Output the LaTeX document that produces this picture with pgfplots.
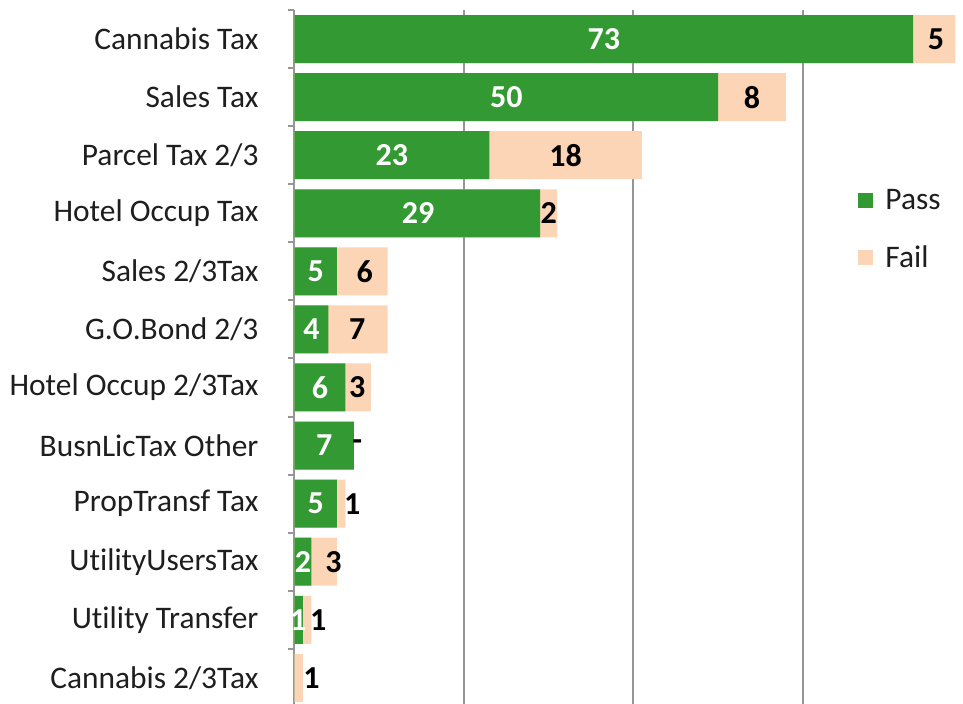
\documentclass[border=0pt]{standalone}
\usepackage{fontspec}
\setmainfont[RawFeature={-liga}]{Carlito}
\usepackage{pgfplots}
\pgfplotsset{compat=1.18}
\usepackage{pgfplotstable}
\definecolor{passg}{RGB}{51,153,51}
\definecolor{failp}{RGB}{251,213,181}
\definecolor{gridg}{RGB}{150,150,150}
\definecolor{txt}{RGB}{30,30,30}

\pgfplotstableread{
y pass fail
0 73 5
1 50 8
2 23 18
3 29 2
4 5 6
5 4 7
6 6 3
7 7 0
8 5 1
9 2 3
10 1 1
11 0 1
}\bars

\pgfplotstableread{
y x label
0 36.5 73
1 25 50
2 11.5 23
3 14.6 29
4 2.5 5
5 2 4
6 3 6
7 3.5 7
8 2.5 5
9 1 2
10 0.45 1
}\passlab

\pgfplotstableread{
y x label
0 75.7 5
1 54 8
2 32 18
3 30 2
4 8.3 6
5 7.4 7
6 7.4 3
7 7.4 {-}
8 6.8 1
9 4.6 3
10 2.8 1
11 2.0 1
}\faillab

\begin{document}
\begin{tikzpicture}
\begin{axis}[
  scale only axis, width=334.25pt, height=347pt,
  xmin=0, xmax=78.9, ymin=-0.5, ymax=11.45, y dir=reverse,
  axis lines*=left,
  x axis line style={draw=none},
  y axis line style={gridg, line width=1pt},
  xtick={20,40,60}, xticklabels={},
  xmajorgrids, grid style={gridg, line width=1pt},
  major x tick style={draw=none},
  ytick={0,...,11},
  yticklabels={Cannabis Tax, Sales Tax, Parcel Tax 2/3, Hotel Occup Tax, Sales 2/3Tax, G.O.Bond 2/3, Hotel Occup 2/3Tax, BusnLicTax Other, PropTransf Tax, UtilityUsersTax, Utility Transfer, Cannabis 2/3Tax},
  major y tick style={draw=none},
  major tick length=0pt,
  minor ytick={-0.5,0.5,...,10.5},
  minor y tick style={gridg, line width=1pt},
  minor tick length=3pt,
  tick align=outside,
  yticklabel style={font=\fontsize{15.7}{18}\selectfont, text=txt, anchor=east, xshift=-14.5pt},
  legend style={at={(0.843,0.748)}, anchor=north west, draw=none, fill=none,
    font=\fontsize{15.7}{18}\selectfont, row sep=12.5pt, inner sep=0pt, text=txt,
    nodes={inner xsep=6pt}},
  legend cell align=left,
  legend image code/.code={\fill[#1] (0pt,-3.75pt) rectangle (7.5pt,3.75pt);},
]
\addplot[xbar, bar width=24pt, bar shift=0pt, fill=failp, draw=none, forget plot]
  table[x expr=\thisrow{pass}+\thisrow{fail}, y=y] {\bars};
\addplot[xbar, bar width=24pt, bar shift=0pt, fill=passg, draw=none, forget plot]
  table[x=pass, y=y] {\bars};
\addplot[draw=none, forget plot, nodes near coords, point meta=explicit symbolic,
  nodes near coords style={anchor=center, text=white, font=\bfseries\fontsize{16}{18}\selectfont}]
  table[x=x, y=y, meta=label] {\passlab};
\addplot[draw=none, forget plot, nodes near coords, point meta=explicit symbolic,
  nodes near coords style={anchor=center, text=black, font=\bfseries\fontsize{16}{18}\selectfont}]
  table[x=x, y=y, meta=label] {\faillab};
\addlegendimage{fill=passg, draw=none}
\addlegendentry{Pass}
\addlegendimage{fill=failp, draw=none}
\addlegendentry{Fail}
\end{axis}
\pgfresetboundingbox
\path[use as bounding box] ([xshift=-147.25pt]current axis.south west) rectangle ([yshift=5pt]current axis.north east);
\end{tikzpicture}
\end{document}
